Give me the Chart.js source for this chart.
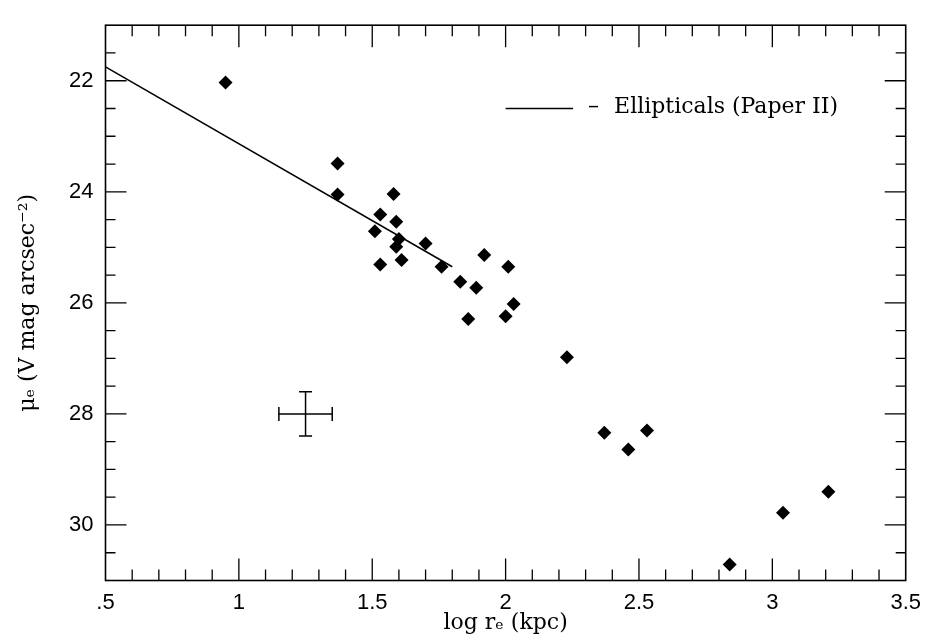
<!DOCTYPE html>
<html><head><meta charset="utf-8">
<script src="https://cdn.jsdelivr.net/npm/chart.js@4"></script>
<style>html,body{margin:0;padding:0;background:#fff;}</style>
</head><body>
<canvas id="c" width="930" height="636" style="width:930px;height:636px;display:block"></canvas>
<script>
// ---- data ----
const logRe = [0.95,1.37,1.37,1.58,1.53,1.59,1.51,1.60,1.59,1.70,1.53,1.61,1.76,1.92,1.83,1.89,2.01,2.03,2.00,1.86,2.23,2.37,2.46,2.53,2.84,3.04,3.21];
const muE   = [22.03,23.49,24.05,24.04,24.41,24.54,24.71,24.85,24.99,24.93,25.31,25.23,25.35,25.14,25.62,25.73,25.35,26.02,26.24,26.29,26.98,28.34,28.64,28.30,30.71,29.78,29.40];
const fitX = [0.5, 1.8];
const fitY = [21.75, 25.35];
const errCenter = [1.25, 28.0];
const errHalf = [0.1, 0.4];
const xTickValues = [0.5,1,1.5,2,2.5,3,3.5];
const xTickLabels = ['.5','1','1.5','2','2.5','3','3.5'];
const yTickValues = [22,24,26,28,30];
const yTickLabels = ['22','24','26','28','30'];
const legendLabel = 'Ellipticals (Paper II)';
const xTitle = 'log r\u2091 (kpc)';
const yTitle = '\u03bc\u2091 (V mag arcsec\u207b\u00b2)';

const INK = '#000';
const SERIF = '"DejaVu Serif", serif';
const SANS = '"Liberation Sans", Arial, sans-serif';

const points = logRe.map((x, i) => ({x, y: muE[i]}));
const fitLine = fitX.map((x, i) => ({x, y: fitY[i]}));
const errH = [{x: errCenter[0] - errHalf[0], y: errCenter[1]}, {x: errCenter[0] + errHalf[0], y: errCenter[1]}];
const errV = [{x: errCenter[0], y: errCenter[1] - errHalf[1]}, {x: errCenter[0], y: errCenter[1] + errHalf[1]}];

const frameTicks = {
  id: 'frameTicks',
  beforeDatasetsDraw(chart) {
    const {ctx, chartArea: a, scales: {x, y}} = chart;
    ctx.save();
    ctx.strokeStyle = INK;
    ctx.lineWidth = 1.6;
    ctx.strokeRect(a.left, a.top, a.right - a.left, a.bottom - a.top);
    ctx.lineWidth = 1.3;
    ctx.beginPath();
    for (let i = 1; i < 30; i++) {
      const v = 0.5 + i * 0.1;
      const px = x.getPixelForValue(v);
      const len = (i % 5 === 0) ? 22 : 11;
      ctx.moveTo(px, a.bottom); ctx.lineTo(px, a.bottom - len);
      ctx.moveTo(px, a.top); ctx.lineTo(px, a.top + len);
    }
    for (let i = 1; i < 20; i++) {
      const v = 21 + i * 0.5;
      const py = y.getPixelForValue(v);
      const len = (Math.abs(v % 2) < 1e-9) ? 21 : 10;
      ctx.moveTo(a.left, py); ctx.lineTo(a.left + len, py);
      ctx.moveTo(a.right, py); ctx.lineTo(a.right - len, py);
    }
    ctx.stroke();
    ctx.restore();
  },
  afterDatasetsDraw(chart) {
    const {ctx, scales: {x, y}} = chart;
    const ds = chart.data.datasets[0];
    const x0 = x.getPixelForValue(2.0), x1 = x.getPixelForValue(2.253);
    const yy = y.getPixelForValue(22.5);
    ctx.save();
    ctx.strokeStyle = INK; ctx.lineWidth = 1.5;
    ctx.beginPath(); ctx.moveTo(x0, yy); ctx.lineTo(x1, yy); ctx.stroke();
    ctx.fillStyle = INK;
    ctx.font = '22px ' + SERIF;
    ctx.textBaseline = 'alphabetic';
    ctx.textAlign = 'left';
    ctx.fillText('\u2013', x1 + 15, yy + 5);
    ctx.fillText(ds.label, x1 + 41, yy + 5);
    ctx.restore();
  }
};

new Chart(document.getElementById('c'), {
  type: 'scatter',
  data: {
    datasets: [
      {label: legendLabel, data: fitLine, showLine: true, borderColor: INK, borderWidth: 1.5, pointRadius: 0, fill: false},
      {label: 'galaxies', data: points, pointStyle: 'rectRot', pointRadius: 7, backgroundColor: INK, borderColor: INK, borderWidth: 0},
      {label: 'err x', data: errH, showLine: true, borderColor: INK, borderWidth: 1.5, pointStyle: 'line', rotation: 90, pointRadius: 7, pointBorderWidth: 1.5, pointBorderColor: INK},
      {label: 'err y', data: errV, showLine: true, borderColor: INK, borderWidth: 1.5, pointStyle: 'line', rotation: 0, pointRadius: 6.5, pointBorderWidth: 1.5, pointBorderColor: INK}
    ]
  },
  options: {
    responsive: false,
    animation: false,
    devicePixelRatio: 1,
    layout: {padding: {top: 17.5, right: 20.5, left: 0, bottom: 0}},
    plugins: {legend: {display: false}, tooltip: {enabled: false}},
    events: [],
    scales: {
      x: {
        type: 'linear', min: 0.5, max: 3.5,
        grid: {display: false, drawTicks: false},
        border: {display: false},
        afterBuildTicks: s => { s.ticks = xTickValues.map(v => ({value: v})); },
        afterFit: s => { s.height = 55.5; },
        ticks: {
          color: INK, padding: 9, maxRotation: 0, autoSkip: false,
          font: {family: SANS, size: 22},
          callback: (v, i) => xTickLabels[i]
        },
        title: {display: true, text: xTitle, color: INK, font: {family: SERIF, size: 22, lineHeight: 1.2}, padding: {top: 0, bottom: 0}}
      },
      y: {
        type: 'linear', min: 21, max: 31, reverse: true,
        grid: {display: false, drawTicks: false},
        border: {display: false},
        afterBuildTicks: s => { s.ticks = yTickValues.map(v => ({value: v})); },
        afterFit: s => { s.width = 105.5; },
        ticks: {
          color: INK, padding: 12, autoSkip: false,
          font: {family: SANS, size: 22},
          callback: (v, i) => yTickLabels[i]
        },
        title: {display: true, text: yTitle, color: INK, font: {family: SERIF, size: 22, lineHeight: 1.2}, padding: {top: 15, bottom: 0}}
      }
    }
  },
  plugins: [frameTicks]
});
</script>
</body></html>
